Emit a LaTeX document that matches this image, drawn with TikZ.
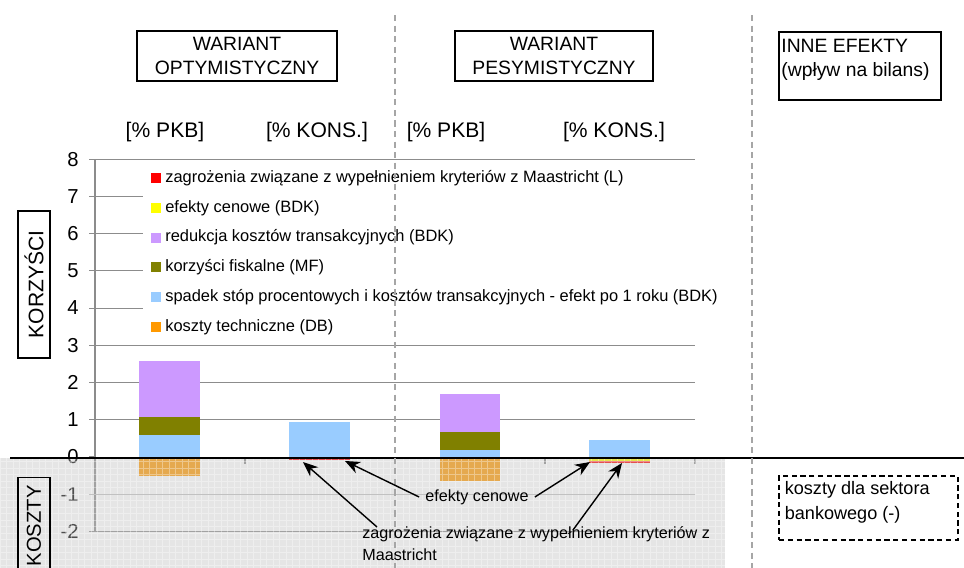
\documentclass[tikz,border=0pt]{standalone}
\usepackage{fontspec}
\setmainfont{Liberation Sans}
\usetikzlibrary{arrows.meta}
\definecolor{zRed}{HTML}{FF0000}
\definecolor{zYel}{HTML}{FFFF00}
\definecolor{zPur}{HTML}{CC99FF}
\definecolor{zOli}{HTML}{808000}
\definecolor{zBlu}{HTML}{99CCFF}
\definecolor{zOra}{HTML}{FF9900}
\definecolor{zGrid}{HTML}{8C8C8C}
\definecolor{zShade}{HTML}{C0C0C0}
\begin{document}
\begin{tikzpicture}[x=0.02cm, y=-0.02cm, every node/.style={font=\fontsize{9}{11}\selectfont},
  hdr/.style={draw,line width=0.7pt,minimum width=4cm,minimum height=0.96cm,align=center,font=\fontsize{11}{14}\selectfont},
  side/.style={draw,line width=0.7pt,rotate=90,minimum height=0.64cm,font=\fontsize{12}{14}\selectfont},
  col/.style={font=\fontsize{12}{14}\selectfont},
  legsq/.style={inner sep=0pt,minimum size=0.2cm},
  note/.style={font=\fontsize{9.2}{12.4}\selectfont,align=left},
  callout/.style={-{Stealth[length=8.5pt,width=7pt]},line width=0.8pt},
  sep/.style={gray!70,line width=0.6pt,dash pattern=on 3.5pt off 2.5pt}]
\useasboundingbox (0,0) rectangle (964,568);
\clip (0,0) rectangle (964,568);
% chart: gridlines, stacked bars, axis
\begin{scope}[shift={(95,457)}, y=0.745cm]
\foreach \v in {-2,-1,1,2,3,4,5,6,7,8} \draw[zGrid,line width=0.5pt] (0,\v) -- (600,\v);
\fill[zBlu] (44,0) rectangle (105,0.59);
\fill[zOli] (44,0.59) rectangle (105,1.07);
\fill[zPur] (44,1.07) rectangle (105,2.58);
\fill[zOra] (44,0) rectangle (105,-0.51);
\fill[zBlu] (194,0) rectangle (255,0.94);
\fill[zYel] (194,0) rectangle (255,-0.03);
\fill[zRed] (194,-0.03) rectangle (255,-0.08);
\fill[zBlu] (345,0) rectangle (405,0.19);
\fill[zOli] (345,0.19) rectangle (405,0.67);
\fill[zPur] (345,0.67) rectangle (405,1.70);
\fill[zOra] (345,0) rectangle (405,-0.65);
\fill[zBlu] (494,0) rectangle (555,0.46);
\fill[zYel] (494,0) rectangle (555,-0.12);
\fill[zRed] (494,-0.12) rectangle (555,-0.16);
\draw[zGrid,line width=0.6pt] (0,-2) -- (0,8);
\foreach \v in {-2,...,8} {
  \draw[zGrid,line width=0.6pt] (-6,\v) -- (0,\v);
  \node[anchor=east,inner sep=0pt,font=\fontsize{11.5}{13}\selectfont] (tk\v) at (-16,\v) {\v};
}
\foreach \x in {150,300,450,600} \draw[zGrid,line width=0.6pt] (\x,0) -- (\x,-0.19);
\end{scope}
% legend
\fill[white] (143,165) rectangle (724,340);
\foreach \i/\c/\t in {0/zRed/{zagrożenia związane z wypełnieniem kryteriów z Maastricht (L)},
    1/zYel/{efekty cenowe (BDK)}, 2/zPur/{redukcja kosztów transakcyjnych (BDK)},
    3/zOli/{korzyści fiskalne (MF)}, 4/zBlu/{spadek stóp procentowych i kosztów transakcyjnych - efekt po 1 roku (BDK)},
    5/zOra/{koszty techniczne (DB)}} {
  \node[legsq,fill=\c] (sq\i) at (155.5,178+29.8*\i) {};
  \node[anchor=west,inner sep=0pt,font=\fontsize{9.35}{11}\selectfont] (lg\i) at (165,178+29.8*\i) {\t};
}
% costs area
\fill[zShade,opacity=0.41] (0,458) rectangle (725,568);
\draw[white,opacity=0.35,line width=0.4pt,step=0.13cm] (0,458) grid (725,568);
\draw[line width=1.15pt] (10,458) -- (964,458);
\draw[sep] (395,15) -- (395,568);
\draw[sep] (752,15) -- (752,568);
% headers
\node[hdr] (opt) at (237,56) {WARIANT\\OPTYMISTYCZNY};
\node[hdr,minimum width=3.96cm] (pes) at (554,56) {WARIANT\\PESYMISTYCZNY};
\node[draw,line width=0.7pt,minimum width=3.24cm,minimum height=1.36cm] (inne) at (860,66) {};
\node[anchor=north west,align=left,inner xsep=1.5pt,inner ysep=4pt,font=\fontsize{11}{14}\selectfont] (inneT) at (inne.north west) {INNE EFEKTY\\(wpływ na bilans)};
\node[col] (pkb1) at (165,132) {[\% PKB]};
\node[col] (kon1) at (317,132) {[\% KONS.]};
\node[col] (pkb2) at (446,132) {[\% PKB]};
\node[col] (kon2) at (614,132) {[\% KONS.]};
\node[side,minimum width=2.94cm] (korz) at (34,284.5) {KORZYŚCI};
\node[side,anchor=east,inner xsep=4.5pt,font=\fontsize{11.5}{14}\selectfont] (koszt) at (34,477) {KOSZTY};
% annotations below zero
\node[note] (cen) at (477,497) {efekty cenowe};
\node[note,anchor=north west,inner sep=0pt] (zag) at (362,526) {zagrożenia związane z wypełnieniem kryteriów z\\Maastricht};
\node[draw,line width=0.6pt,dash pattern=on 3pt off 2pt,minimum width=3.58cm,minimum height=1.28cm] (bank) at (868.5,508) {};
\node[anchor=north west,align=left,inner xsep=3.4pt,inner ysep=3.4pt,font=\fontsize{10.3}{14}\selectfont] (bankT) at (bank.north west) {koszty dla sektora\\bankowego (-)};
\coordinate (redA) at (303,462);
\coordinate (redB) at (622,463);
\coordinate (yelA) at (345,461);
\coordinate (yelB) at (590,462);
\coordinate (zagA) at (377,527);
\coordinate (zagB) at (573,530);
\draw[callout] (cen.west) -- (yelA);
\draw[callout] (cen.east) -- (yelB);
\draw[callout] (zagA) -- (redA);
\draw[callout] (zagB) -- (redB);
\end{tikzpicture}
\end{document}
